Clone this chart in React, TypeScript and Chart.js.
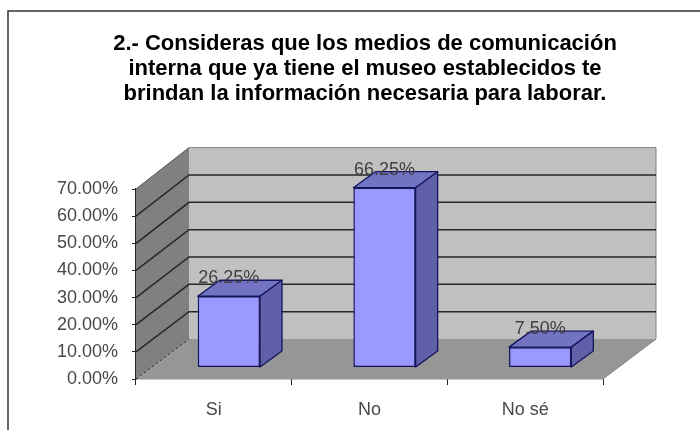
import React, { useEffect, useRef } from "react";
import { Chart, registerables } from "chart.js";

Chart.register(...registerables);

const titleLines = [
  "2.- Consideras que los medios de comunicación",
  "interna que ya tiene el museo establecidos te",
  "brindan la información necesaria para laborar.",
];
const categories = ["Si", "No", "No sé"];
const responseShare = [26.25, 66.25, 7.5];
const axisMax = 70;
const axisStep = 10;

const FONT = "'Liberation Sans', Arial, sans-serif";
const BOX_DEPTH = { x: 53, yFloor: -40, yTop: -41.4 };
const BAR_SHIFT = { x: 15, y: -11.5 };
const BAR_DEPTH = { x: 22, y: -16 };

const percent = (v: number) => v.toFixed(2) + "%";

// Walls and floor of the box, placed from the chart's own scales.
const boxPlugin = {
  id: "box",
  beforeDatasetsDraw(chart: any) {
    const { ctx, scales } = chart;
    const yS = scales.y;
    const xL = chart.chartArea.left;
    const xR = chart.chartArea.right;
    const y0 = yS.getPixelForValue(0);
    const yMax = yS.getPixelForValue(axisMax);
    const backY = (v: number) => {
      const t = v / axisMax;
      return yS.getPixelForValue(v) + BOX_DEPTH.yFloor + (BOX_DEPTH.yTop - BOX_DEPTH.yFloor) * t;
    };
    const bxL = xL + BOX_DEPTH.x;
    const bxR = xR + BOX_DEPTH.x;

    const poly = (pts: number[][], fill: string) => {
      ctx.beginPath();
      pts.forEach(([a, b], i) => (i ? ctx.lineTo(a, b) : ctx.moveTo(a, b)));
      ctx.closePath();
      ctx.fillStyle = fill;
      ctx.fill();
    };

    ctx.save();
    // outer frame of the chart object, running past the page edge
    ctx.strokeStyle = "#333333";
    ctx.lineWidth = 1.5;
    ctx.strokeRect(8, 11, 760, 500);

    poly([[bxL, backY(axisMax)], [bxR, backY(axisMax)], [bxR, backY(0)], [bxL, backY(0)]], "#c0c0c0");
    poly([[xL, y0], [xL, yMax], [bxL, backY(axisMax)], [bxL, backY(0)]], "#808080");
    poly([[xL, y0], [xR, y0], [bxR, backY(0)], [bxL, backY(0)]], "#969696");

    ctx.strokeStyle = "#808080";
    ctx.lineWidth = 1;
    ctx.beginPath();
    ctx.moveTo(bxL, backY(axisMax));
    ctx.lineTo(bxR, backY(axisMax));
    ctx.lineTo(bxR, backY(0));
    ctx.moveTo(xR, y0);
    ctx.lineTo(bxR, backY(0));
    ctx.stroke();

    // grid lines over the side wall and back wall
    ctx.strokeStyle = "#262626";
    ctx.lineWidth = 1.5;
    for (let v = axisStep; v < axisMax; v += axisStep) {
      ctx.beginPath();
      ctx.moveTo(xL, yS.getPixelForValue(v));
      ctx.lineTo(bxL, backY(v));
      ctx.lineTo(bxR, backY(v));
      ctx.stroke();
    }
    ctx.beginPath();
    ctx.moveTo(xL, yMax);
    ctx.lineTo(bxL, backY(axisMax));
    ctx.strokeStyle = "#555555";
    ctx.lineWidth = 1;
    ctx.stroke();
    ctx.setLineDash([3, 2]);
    ctx.strokeStyle = "#333333";
    ctx.beginPath();
    ctx.moveTo(xL, y0);
    ctx.lineTo(bxL, backY(0));
    ctx.stroke();
    ctx.restore();
  },
  beforeDatasetDraw(chart: any) {
    chart.ctx.save();
    chart.ctx.translate(BAR_SHIFT.x, BAR_SHIFT.y);
  },
  afterDatasetDraw(chart: any, args: any) {
    const { ctx } = chart;
    ctx.restore();
    const bars = args.meta.data;
    bars.forEach((bar: any, i: number) => {
      const half = bar.width / 2;
      const l = bar.x - half + BAR_SHIFT.x;
      const r = bar.x + half + BAR_SHIFT.x;
      const t = bar.y + BAR_SHIFT.y;
      const b = bar.base + BAR_SHIFT.y;
      ctx.save();
      ctx.lineWidth = 1.3;
      ctx.strokeStyle = "#14145f";
      ctx.lineJoin = "round";
      ctx.fillStyle = "#7373c4";
      ctx.beginPath();
      ctx.moveTo(l, t);
      ctx.lineTo(l + BAR_DEPTH.x, t + BAR_DEPTH.y);
      ctx.lineTo(r + BAR_DEPTH.x, t + BAR_DEPTH.y);
      ctx.lineTo(r, t);
      ctx.closePath();
      ctx.fill();
      ctx.stroke();
      ctx.fillStyle = "#6060a8";
      ctx.beginPath();
      ctx.moveTo(r, t);
      ctx.lineTo(r + BAR_DEPTH.x, t + BAR_DEPTH.y);
      ctx.lineTo(r + BAR_DEPTH.x, b + BAR_DEPTH.y);
      ctx.lineTo(r, b);
      ctx.closePath();
      ctx.fill();
      ctx.stroke();
      // value label above the bar
      ctx.fillStyle = "#404040";
      ctx.font = `18px ${FONT}`;
      ctx.textAlign = "center";
      ctx.textBaseline = "middle";
      ctx.fillText(percent(responseShare[i]), (l + r) / 2, t - 18);
      ctx.restore();
    });
  },
};

export default function App() {
  const canvasRef = useRef<HTMLCanvasElement>(null);

  useEffect(() => {
    const chart = new Chart(canvasRef.current as HTMLCanvasElement, {
      type: "bar",
      data: {
        labels: categories,
        datasets: [
          {
            data: responseShare,
            backgroundColor: "#9999ff",
            borderColor: "#14145f",
            borderWidth: 1.5,
            borderSkipped: false,
            barPercentage: 0.4,
            categoryPercentage: 1,
            clip: false,
          } as any,
        ],
      },
      options: {
        responsive: false,
        animation: false,
        layout: { padding: { left: 30, right: 0, top: 0, bottom: 0 } },
        plugins: {
          legend: { display: false },
          tooltip: { enabled: false },
          title: {
            display: true,
            text: titleLines,
            color: "#000000",
            font: { family: FONT, size: 22, weight: "bold", lineHeight: 25 / 22 },
            padding: { top: 31.5, bottom: 82.5 },
          },
        },
        scales: {
          x: {
            z: 1,
            border: { color: "#222222", width: 1.3 },
            grid: { offset: true, drawOnChartArea: false, tickLength: 6, tickColor: "#222222" },
            ticks: { color: "#484848", font: { family: FONT, size: 18 }, padding: 14, maxRotation: 0 },
            afterFit: (s: any) => {
              s.height = 51;
            },
          },
          y: {
            z: 1,
            min: 0,
            max: axisMax,
            border: { color: "#222222", width: 1.3 },
            grid: { drawOnChartArea: false, tickLength: 4, tickColor: "#222222" },
            ticks: {
              stepSize: axisStep,
              color: "#484848",
              font: { family: FONT, size: 18 },
              padding: 14,
              callback: (v: any) => percent(Number(v)),
            },
            afterFit: (s: any) => {
              s.width = 106;
            },
          },
          // empty right-hand axis that reserves the depth margin
          spare: {
            position: "right",
            display: true,
            grid: { display: false },
            border: { display: false },
            ticks: { display: false },
            afterFit: (s: any) => {
              s.width = 97;
            },
          },
        },
      } as any,
      plugins: [boxPlugin],
    });
    return () => chart.destroy();
  }, []);

  return (
    <div style={{ position: "absolute", left: 0, top: 0, width: 700, height: 430, overflow: "hidden", background: "#ffffff" }}>
      <canvas ref={canvasRef} width={700} height={430} style={{ display: "block" }} />
    </div>
  );
}
